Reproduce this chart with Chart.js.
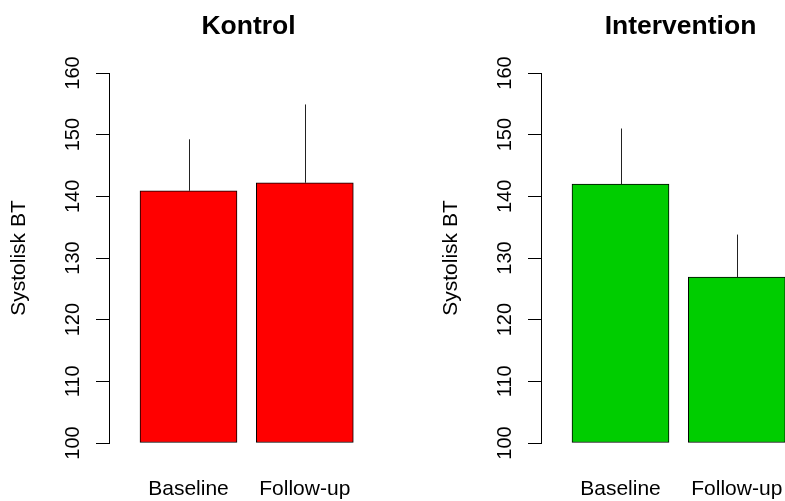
<!DOCTYPE html>
<html>
<head>
<meta charset="utf-8">
<script src="https://cdn.jsdelivr.net/npm/chart.js@4"></script>
<style>
  html, body { margin: 0; padding: 0; background: #ffffff; }
  #wrap { position: relative; width: 785px; height: 501px; overflow: hidden; background: #ffffff; }
  .panel { position: absolute; top: 0; width: 497px; height: 501px; }
  #p1 { left: 0px; }
  #p2 { left: 432px; }
</style>
</head>
<body>
<div id="wrap">
  <div class="panel" id="p1"><canvas id="c1" width="497" height="501"></canvas></div>
  <div class="panel" id="p2"><canvas id="c2" width="497" height="501"></canvas></div>
</div>
<script>
// ---- data ----
const categories = ['Baseline', 'Follow-up'];
const kontrolMeans = [140.9, 142.2];
const kontrolSD = [8.35, 12.7];
const interventionMeans = [142.0, 126.9];
const interventionSD = [9.0, 6.9];
const yTicks = [100, 110, 120, 130, 140, 150, 160];
const panelTitles = ['Kontrol', 'Intervention'];
const yAxisTitle = 'Systolisk BT';

const FONT = "'Liberation Sans', Arial, Helvetica, sans-serif";

const errorBarPlugin = {
  id: 'errorBars',
  afterDatasetsDraw(chart) {
    const ctx = chart.ctx;
    const yScale = chart.scales.y;
    chart.data.datasets.forEach((ds, di) => {
      const meta = chart.getDatasetMeta(di);
      meta.data.forEach((el, i) => {
        const top = yScale.getPixelForValue(ds.means[i] + ds.sd[i]);
        const x = Math.round(el.x) + 0.5;
        ctx.save();
        ctx.strokeStyle = '#222222';
        ctx.lineWidth = 1;
        ctx.beginPath();
        ctx.moveTo(x, el.y);
        ctx.lineTo(x, top);
        ctx.stroke();
        ctx.restore();
      });
    });
  }
};

const unit = 116.3;        // px between bar centres
const axisLeft = 109;      // px position of the y axis inside each canvas
const firstCentre = 188.5; // px position of first bar centre
const plotRight = 497;

function makeChart(canvasId, title, means, sd, color) {
  const xmin = -(firstCentre - axisLeft) / unit;
  const xmax = xmin + (plotRight - axisLeft) / unit;
  return new Chart(document.getElementById(canvasId), {
    type: 'bar',
    data: {
      datasets: [{
        data: categories.map((c, i) => ({ x: i, y: means[i] })),
        means: means,
        sd: sd,
        backgroundColor: color,
        borderColor: '#000000',
        borderWidth: 1,
        borderSkipped: false,
        barThickness: 97,
        base: yTicks[0]
      }]
    },
    options: {
      responsive: false,
      animation: false,
      devicePixelRatio: 1,
      layout: { padding: 0 },
      plugins: {
        legend: { display: false },
        tooltip: { enabled: false },
        title: {
          display: true,
          text: title,
          color: '#000000',
          font: { family: FONT, size: 26.5, weight: 'bold', lineHeight: 1.2 },
          padding: { top: 11, bottom: 30.2 }
        }
      },
      scales: {
        x: {
          type: 'linear',
          offset: false,
          bounds: 'data',
          min: xmin,
          max: xmax,
          grid: { display: false, offset: false },
          border: { display: false },
          afterBuildTicks: (scale) => { scale.ticks = categories.map((c, i) => ({ value: i })); },
          afterFit: (scale) => { scale.height = 58; },
          ticks: {
            color: '#000000',
            font: { family: FONT, size: 21 },
            padding: 26,
            maxRotation: 0,
            minRotation: 0,
            autoSkip: false,
            callback: (v) => categories[v]
          }
        },
        y: {
          min: yTicks[0],
          max: yTicks[yTicks.length - 1],
          afterBuildTicks: (scale) => { scale.ticks = yTicks.map(v => ({ value: v })); },
          afterFit: (scale) => { scale.width = axisLeft; },
          grid: { display: true, drawOnChartArea: false, drawTicks: true, tickLength: 13, color: '#000000', lineWidth: 1 },
          border: { display: true, color: '#000000', width: 1 },
          ticks: {
            color: '#000000',
            font: { family: FONT, size: 20 },
            minRotation: 90,
            maxRotation: 90,
            crossAlign: 'center',
            padding: 6,
            autoSkip: false
          },
          title: {
            display: true,
            text: yAxisTitle,
            color: '#000000',
            font: { family: FONT, size: 21 },
            padding: { top: 7, bottom: 0 }
          }
        }
      }
    },
    plugins: [errorBarPlugin]
  });
}

makeChart('c1', panelTitles[0], kontrolMeans, kontrolSD, '#FF0000');
makeChart('c2', panelTitles[1], interventionMeans, interventionSD, '#00CD00');
</script>
</body>
</html>
